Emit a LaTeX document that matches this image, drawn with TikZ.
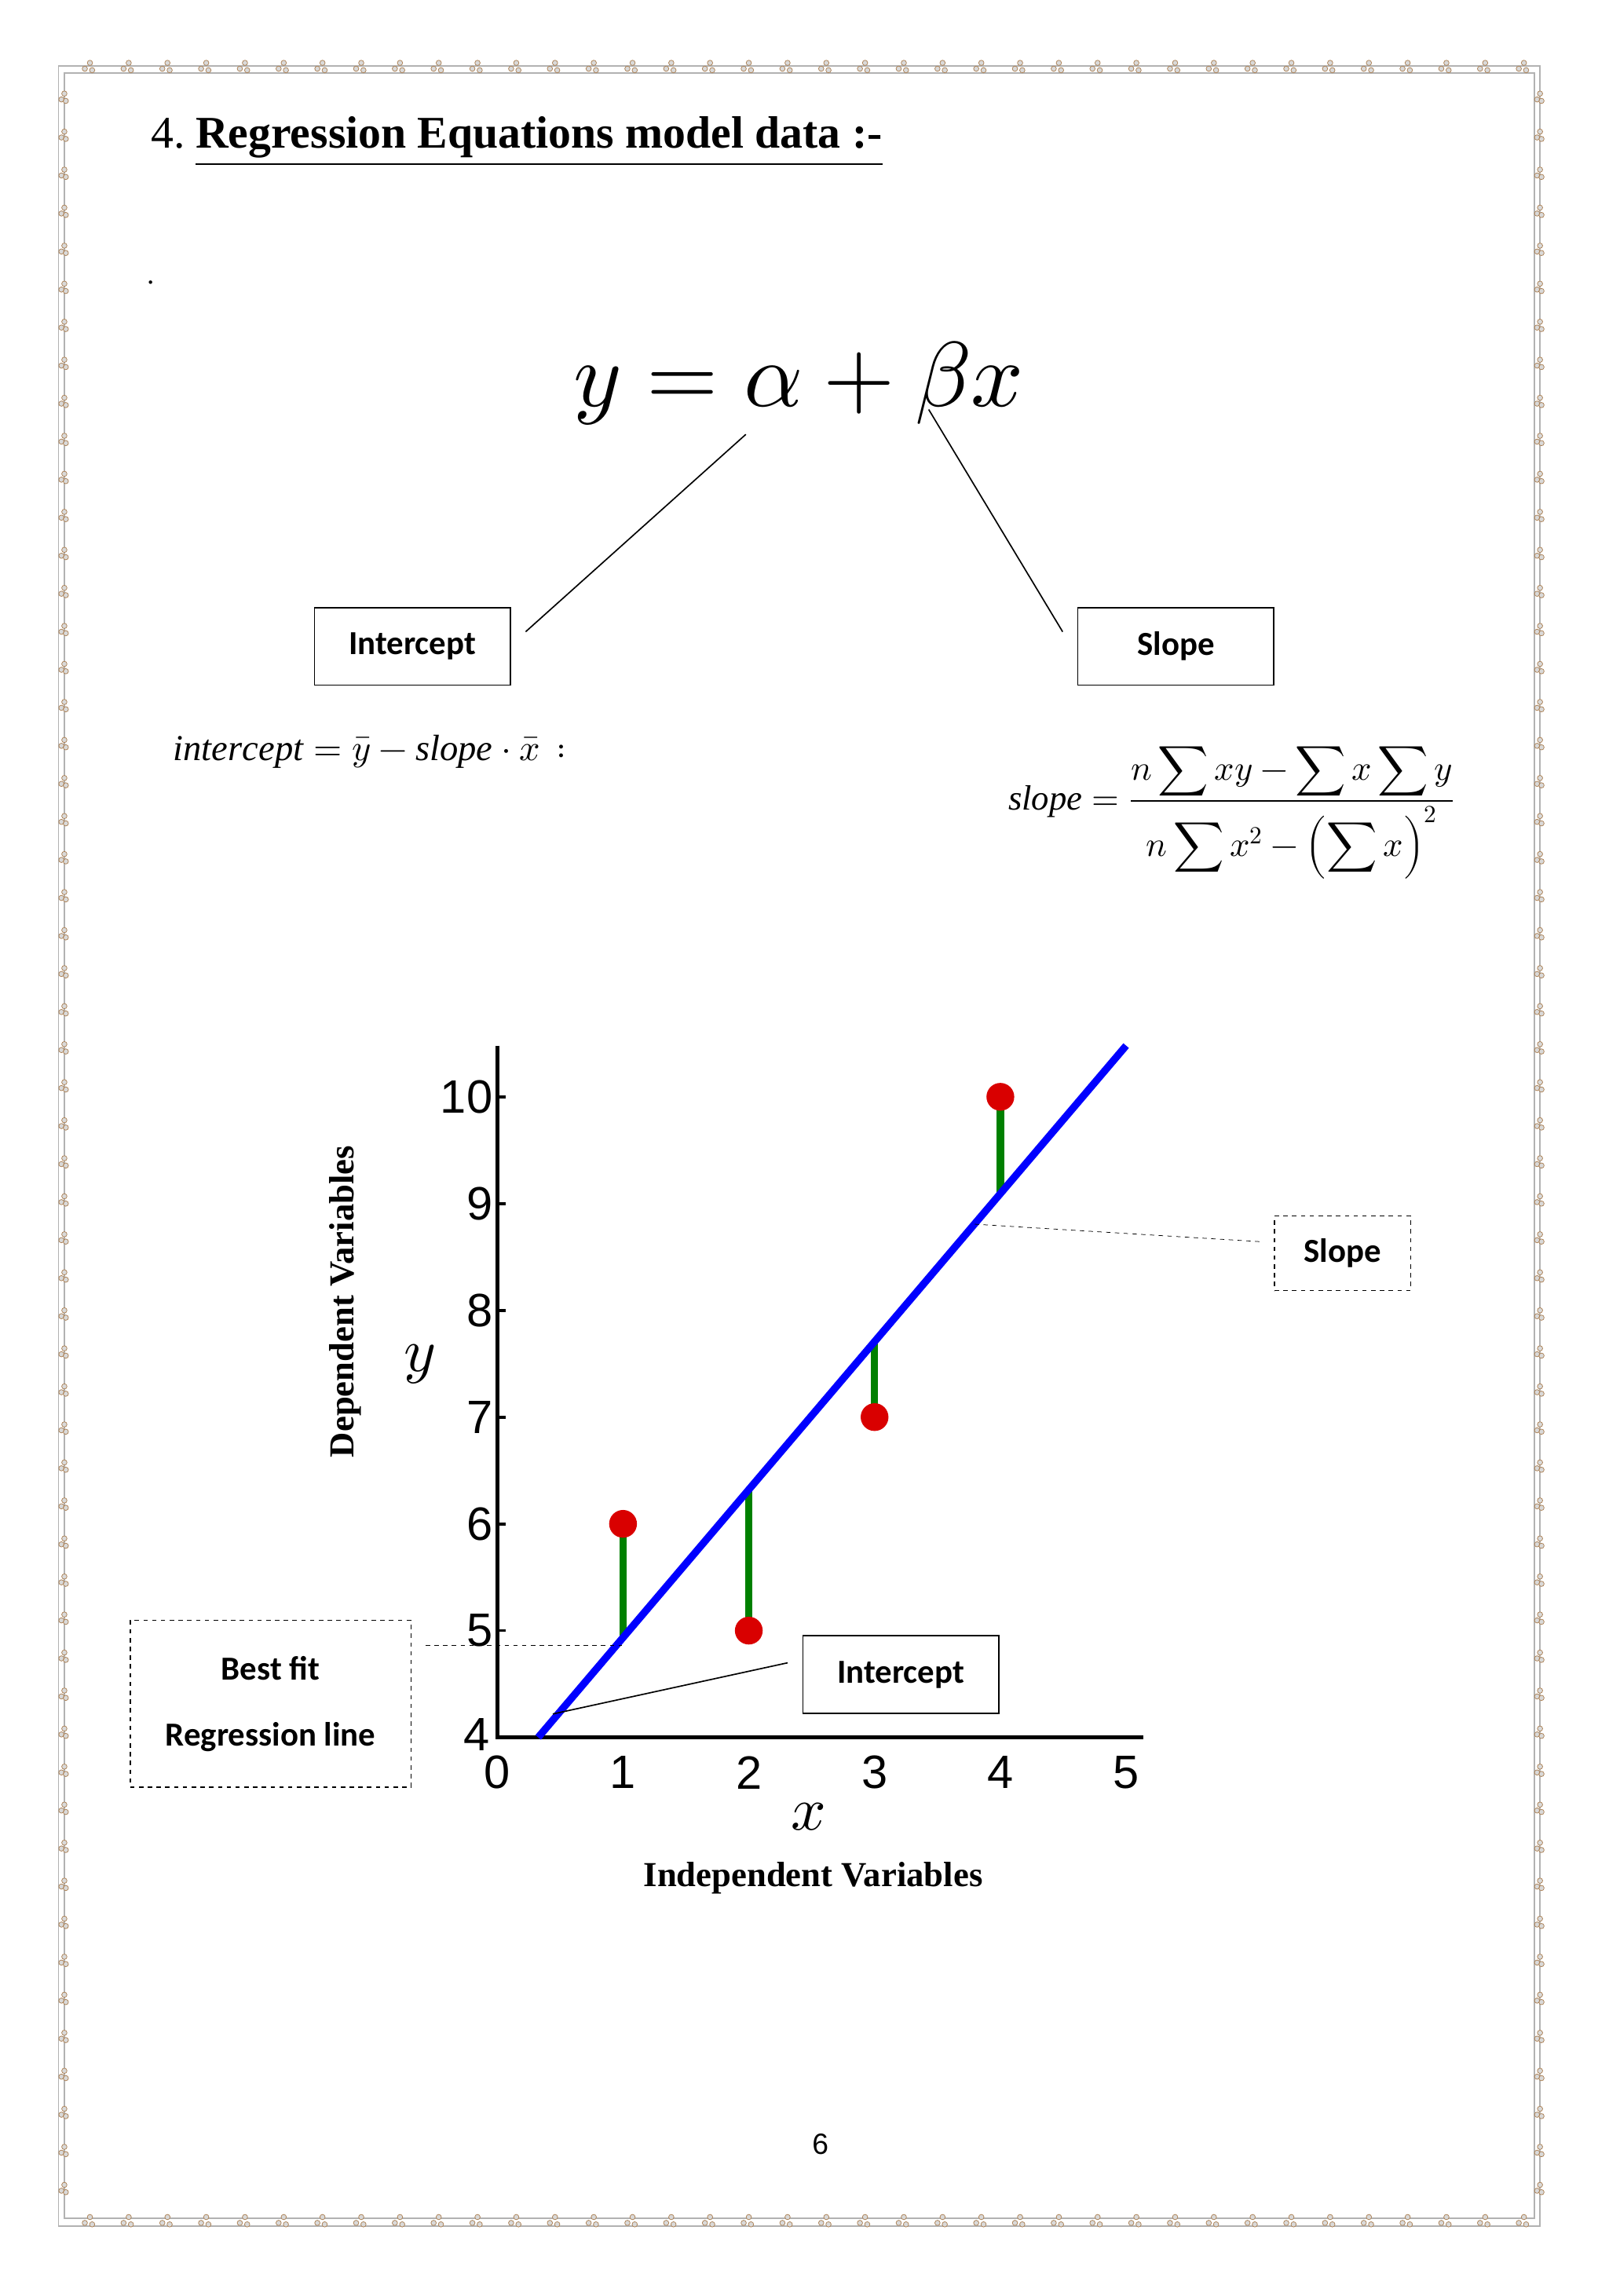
\documentclass[tikz,border=0pt]{standalone}
\usepackage{amsmath}
\usepackage{unicode-math}
\setmainfont{Liberation Serif}
\setmathfont{Latin Modern Math}
\newfontfamily\carfont{Carlito}
\newfontfamily\ari{Liberation Sans}
\newcommand{\fz}[1]{\fontsize{#1pt}{#1pt}\selectfont}
\begin{document}
\begin{tikzpicture}[x=1pt,y=-1pt,
  bx/.style={draw,thick,minimum width=134pt,minimum height=53pt,font=\carfont\bfseries\fz{23}},
  dbx/.style={draw,thick,dashed,font=\carfont\bfseries\fz{23},align=center},
  tick/.style={font=\ari\fz{32}},
  conn/.style={draw=black,line width=0.9pt},
  dot/.style={circle,fill=red!85!black,inner sep=0pt,minimum width=19pt,minimum height=15pt}]
\useasboundingbox (0,0) rectangle (1100,1570);
% border
\draw[gray!60,line width=1pt] (40,45) rectangle (1053,1522);
\draw[gray!60,line width=1pt] (44,50) rectangle (1049,1517);
\foreach \i in {0,...,37}{
  \pgfmathsetmacro\xx{58+26.5*\i}
  \foreach \yy in {47,1520}{
  \draw[brown!70!gray,fill=gray!30,line width=.4pt] (\xx,\yy) circle (1.8) (\xx+3.5,\yy-4) circle (1.8) (\xx+5,\yy+1) circle (1.8);}}
\foreach \i in {0,...,55}{
  \pgfmathsetmacro\yy{68+26*\i}
  \foreach \xx in {42,1051}{
  \draw[brown!70!gray,fill=gray!30,line width=.4pt] (\xx,\yy) circle (1.8) (\xx+2,\yy-4) circle (1.8) (\xx+3,\yy+1) circle (1.8);}}
% title
\node[anchor=base west,font=\fz{31}] (title) at (100,101) {4.\kern7pt\textbf{\underline{Regression Equations model data :-}}};
\node[font=\fz{20}] (dot) at (103,193) {.};
\node[font=\fz{63}] (eq) at (546,262) {$y=\alpha+\beta x$};
\node[bx] (int1) at (282,442) {Intercept};
\node[bx] (slo1) at (804,442) {Slope};
\coordinate (ia) at (510,297); \coordinate (sa) at (635,280);
\draw[conn] (int1.east)++(10,-10) coordinate (ib) -- (ia);
\draw[conn] (slo1.west)++(-10,-10) coordinate (sb) -- (sa);
\node[anchor=west,font=\fz{25}] (iform) at (115,514) {$\mathit{intercept}=\bar{y}-\mathit{slope}\cdot\bar{x}\,:$};
\node[font=\fz{24}] (sform) at (842,556) {$\mathit{slope}=\dfrac{n\displaystyle\sum xy-\sum x\sum y}{n\displaystyle\sum x^{2}-\Bigl(\sum x\Bigr)^{2}}$};
% plot
\coordinate (O) at (340,1188);
\draw[line width=2.5pt] (340,715) coordinate (ytop) -- (O) -- (782,1188) coordinate (xend);
\foreach \t in {0,...,5}{\node[tick] (xt\t) at (340+86*\t,1212) {\t};}
\foreach \v in {5,...,10}{\draw[line width=2pt] (340,1188-73*\v+292) -- ++(6,0); \node[tick,anchor=east,inner sep=1pt] (yt\v) at (338,1188-73*\v+292) {\v};}
\node[tick,anchor=east,inner sep=1pt] (yt4) at (336,1186) {4};
\foreach \t/\v in {1/6,2/5,3/7,4/10}{
  \pgfmathsetmacro\px{340+86*\t}
  \pgfmathsetmacro\py{1188-73*(\v-4)}
  \pgfmathsetmacro\ly{1188-73*(3.549+1.386*\t-4)}
  \draw[green!50!black,line width=5pt] (\px,\py) -- (\px,\ly);
  \node[dot] (p\t) at (\px,\py) {};}
\draw[blue,line width=5pt] (368,1188) coordinate (la) -- (770,715) coordinate (lb);
\node[font=\fz{42}] (ylab) at (287,933) {$y$};
\node[font=\fz{42}] (xlab) at (553,1242) {$x$};
\node[rotate=90,font=\bfseries\fz{24}] (dep) at (236,890) {Dependent Variables};
\node[font=\bfseries\fz{24}] (ind) at (556,1284) {Independent Variables};
\node[dbx,minimum width=192pt,minimum height=114pt] (best) at (185,1165) {Best fit\\[22pt]Regression line};
\draw[dashed] (291,1125) coordinate (d5) -- (425,1125);
\node[bx] (int2) at (616,1145) {Intercept};
\draw[conn] (int2.west)++(-10,-8) -- (378,1172);
\node[dbx,minimum width=93pt,minimum height=51pt] (slo2) at (918,857) {Slope};
\draw[dashed] (slo2.west)++(-10,-8) -- (665,837);
\node[font=\ari\fz{20}] (pg) at (561,1466) {6};
\end{tikzpicture}
\end{document}
